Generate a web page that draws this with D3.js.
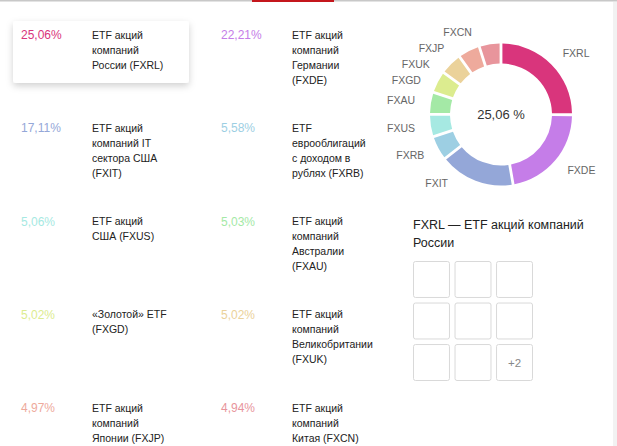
<!DOCTYPE html>
<meta charset="utf-8">
<style>
body { margin: 0; background: #fff; }
svg { display: block; font-family: Arial, "Liberation Sans", sans-serif; }
.pct { font-size: 12px; }
.desc { font-size: 10.5px; fill: #222; }
.slice-label { font-size: 10.5px; fill: #666; }
</style>
<script src="https://cdn.jsdelivr.net/npm/d3@7"></script>
<body>
<script>

var tickers = ["FXRL", "FXDE", "FXIT", "FXRB", "FXUS", "FXAU", "FXGD", "FXUK", "FXJP", "FXCN"];
var values = [25.06, 22.21, 17.11, 5.58, 5.06, 5.03, 5.02, 5.02, 4.97, 4.94];
var names = [
  "ETF акций\nкомпаний\nРоссии (FXRL)",
  "ETF акций\nкомпаний\nГермании\n(FXDE)",
  "ETF акций\nкомпаний IT\nсектора США\n(FXIT)",
  "ETF\nеврооблигаций\nс доходом в\nрублях (FXRB)",
  "ETF акций\nСША (FXUS)",
  "ETF акций\nкомпаний\nАвстралии\n(FXAU)",
  "«Золотой» ETF\n(FXGD)",
  "ETF акций\nкомпаний\nВеликобритании\n(FXUK)",
  "ETF акций\nкомпаний\nЯпонии (FXJP)",
  "ETF акций\nкомпаний\nКитая (FXCN)"
];
var colors = ["#d9357c", "#c57de8", "#94a7d8", "#9dcfe3", "#a6e9e2",
              "#a4e9a6", "#dcec8f", "#ebd29a", "#eeaa9c", "#e8959c"];
var selectedTitle = "FXRL — ETF акций компаний\nРоссии";
var extraCount = "+2";

var width = 617,
    height = 446;

var svg = d3.select("body").append("svg")
    .attr("width", width)
    .attr("height", height);

// frame: top rule with red tab, grey strip on right
svg.append("rect").attr("x", 0).attr("y", 0).attr("width", width).attr("height", 1.5).attr("fill", "#c8c8c8");
svg.append("rect").attr("x", 252).attr("y", 0).attr("width", 82).attr("height", 2).attr("fill", "#c4161c");
svg.append("rect").attr("x", 613).attr("y", 2).attr("width", 4).attr("height", height).attr("fill", "#f2f2f2");

var defs = svg.append("defs");
var shadow = defs.append("filter").attr("id", "shadow")
    .attr("x", "-20%").attr("y", "-30%").attr("width", "140%").attr("height", "170%");
shadow.append("feDropShadow").attr("dx", 0).attr("dy", 3).attr("stdDeviation", 3.5)
    .attr("flood-color", "#000").attr("flood-opacity", 0.18);

// ---- legend grid (2 columns x 5 rows)
var col = d3.scaleOrdinal().domain([0, 1]).range([21, 221]);
var row = d3.scaleLinear().domain([0, 4]).range([35, 408]);
var descOffset = 71,
    lineH = 15;

// highlighted card for the selected item
svg.append("rect")
    .attr("x", col(0) - 8).attr("y", row(0) - 14)
    .attr("width", 176).attr("height", 62).attr("rx", 3)
    .attr("fill", "#fff")
    .attr("filter", "url(#shadow)");

var items = svg.selectAll(".item")
    .data(tickers)
  .enter().append("g")
    .attr("class", "item")
    .attr("transform", function (d, i) {
      return "translate(" + col(i % 2) + "," + row(Math.floor(i / 2)) + ")";
    });

items.append("text")
    .attr("class", "pct")
    .attr("dy", "0.35em")
    .attr("fill", function (d, i) { return colors[i]; })
    .text(function (d, i) { return d3.format(".2f")(values[i]).replace(".", ",") + "%"; });

items.append("text")
    .attr("class", "desc")
    .attr("x", descOffset)
  .selectAll("tspan")
    .data(function (d, i) { return names[i].split("\n"); })
  .enter().append("tspan")
    .attr("x", descOffset)
    .attr("y", function (d, j) { return j * lineH; })
    .attr("dy", "0.35em")
    .text(function (d) { return d; });

// ---- donut
var cx = 501, cy = 114.5;
var rOuter = 71, rInner = 51;

var pie = d3.pie().sort(null).value(function (d) { return d; });
var arc = d3.arc().innerRadius(rInner).outerRadius(rOuter).padAngle(0.032);
var arcsData = pie(values);

var donut = svg.append("g").attr("transform", "translate(" + cx + "," + cy + ")");

donut.selectAll("path")
    .data(arcsData)
  .enter().append("path")
    .attr("d", arc)
    .attr("fill", function (d, i) { return colors[i]; });

donut.append("text")
    .attr("text-anchor", "middle")
    .attr("dy", "0.35em")
    .attr("font-size", "13px")
    .attr("fill", "#333")
    .text(d3.format(".2f")(values[0]).replace(".", ",") + " %");

// outside labels: ideal y from mid angle, then spread apart on each side
var labelR = 87;
var labels = arcsData.map(function (d, i) {
  var a = (d.startAngle + d.endAngle) / 2;
  return { name: tickers[i], right: Math.sin(a) >= 0, y: -labelR * Math.cos(a) };
});

function spread(list) {
  list.sort(function (a, b) { return a.y - b.y; });
  list.forEach(function (l) { l.y = Math.max(-82, Math.min(69, l.y)); });
  for (var k = 1; k < list.length; k++) list[k].y = Math.max(list[k].y, list[k - 1].y + 16);
  for (k = list.length - 2; k >= 0; k--) list[k].y = Math.min(list[k].y, list[k + 1].y - 16);
}
spread(labels.filter(function (l) { return l.right; }));
spread(labels.filter(function (l) { return !l.right; }));

donut.selectAll(".slice-label")
    .data(labels)
  .enter().append("text")
    .attr("class", "slice-label")
    .attr("text-anchor", function (d) { return d.right ? "start" : "end"; })
    .attr("x", function (d) {
      var dx = Math.sqrt(Math.max(0, labelR * labelR - d.y * d.y));
      return d.right ? dx : -dx;
    })
    .attr("y", function (d) { return d.y; })
    .attr("dy", "0.35em")
    .text(function (d) { return d.name; });

// ---- selected item title and thumbnail grid
svg.append("text")
    .attr("x", 413)
    .attr("font-size", "12.5px")
    .attr("fill", "#222")
  .selectAll("tspan")
    .data(selectedTitle.split("\n"))
  .enter().append("tspan")
    .attr("x", 413)
    .attr("y", function (d, j) { return 225 + j * 17.5; })
    .attr("dy", "0.35em")
    .text(function (d) { return d; });

var cells = d3.range(9);
var cellPos = d3.scaleBand().domain([0, 1, 2]).range([413, 533]).paddingInner(0.11);
var cellRow = d3.scaleBand().domain([0, 1, 2]).range([261, 381]).paddingInner(0.11);

var cell = svg.selectAll(".cell")
    .data(cells)
  .enter().append("g")
    .attr("class", "cell")
    .attr("transform", function (d) {
      return "translate(" + cellPos(d % 3) + "," + cellRow(Math.floor(d / 3)) + ")";
    });

cell.append("rect")
    .attr("x", 0.5).attr("y", 0.5)
    .attr("width", cellPos.bandwidth() - 1)
    .attr("height", cellRow.bandwidth() - 1)
    .attr("rx", 2)
    .attr("fill", "#fff")
    .attr("stroke", "#d9d9d9");

cell.filter(function (d) { return d === 8; })
  .append("text")
    .attr("x", cellPos.bandwidth() / 2)
    .attr("y", cellRow.bandwidth() / 2)
    .attr("dy", "0.35em")
    .attr("text-anchor", "middle")
    .attr("font-size", "11.5px")
    .attr("fill", "#888")
    .text(extraCount);

</script>
</body>
